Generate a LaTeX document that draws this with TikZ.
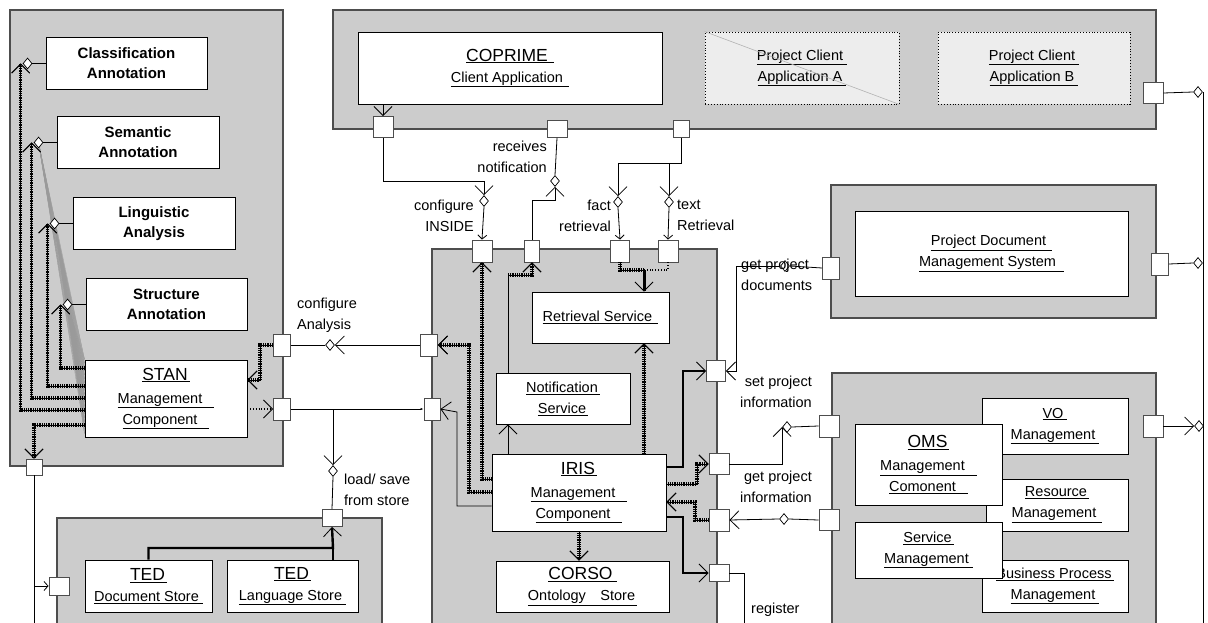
\documentclass[tikz,border=0pt]{standalone}
\usepackage{fontspec}
\setmainfont{Liberation Sans}
\usetikzlibrary{arrows.meta,calc,shapes.geometric}
\definecolor{pkggray}{HTML}{CCCCCC}
\definecolor{pkgline}{HTML}{4D4D4D}
\definecolor{appgray}{HTML}{EDEDED}
\definecolor{fangray}{HTML}{9A9A9A}
\newcommand{\und}[2][0pt]{\underline{#2\hspace{#1}}}
\newcommand{\ttl}{\fontsize{17.5}{24}\selectfont}
\begin{document}
\begin{tikzpicture}[x=1pt,y=-1pt,font=\fontsize{14.5}{21}\selectfont,
  pkg/.style={draw=pkgline,fill=pkggray,line width=1.2pt},
  comp/.style={draw=black,fill=white,line width=0.9pt,align=center,inner sep=0pt},
  port/.style={draw=pkgline,fill=white,line width=0.9pt,inner sep=0pt},
  dia/.style={diamond,draw=black,fill=white,line width=0.7pt,inner sep=0pt,minimum width=9pt,minimum height=11pt},
  wire/.style={draw=black,line width=0.8pt},
  hat/.style={draw=black,line width=3.2pt,dash pattern=on 1pt off 0.8pt,postaction={draw=black,solid,line width=0.9pt}},
  heavy/.style={draw=black,line width=2.4pt},
  lbl/.style={inner sep=0pt},
  crow/.tip={Straight Barb[length=9pt,width=18pt,line width=0.8pt]},
  crs/.tip={Straight Barb[length=4pt,width=9pt,line width=0.8pt]}]
\useasboundingbox (0,0) rectangle (1208,623);
\clip (0,0) rectangle (1208,623);
\node[pkg,minimum width=273pt,minimum height=456pt] (pkStan) at (146.5,238) {};
\node[pkg,minimum width=823pt,minimum height=119pt] (pkCli) at (744.5,69.5) {};
\node[pkg,minimum width=325pt,minimum height=133pt] (pkDoc) at (993.5,251.5) {};
\node[pkg,minimum width=285pt,minimum height=391pt] (pkIris) at (574.5,444.5) {};
\node[pkg,minimum width=324pt,minimum height=267pt] (pkOms) at (994,506.5) {};
\node[pkg,minimum width=325pt,minimum height=122pt] (pkTed) at (219.5,579) {};
\foreach \id/\x/\y/\w/\t in {
cls/126.5/63.5/161/{Classification\\Annotation},
sem/138/142.5/162/{Semantic\\Annotation},
lin/154/223.5/162/{Linguistic\\Analysis},
str/166.5/304.5/161/{Structure\\Annotation}}
{
  \node[comp,minimum width=\w pt,minimum height=52pt,font=\fontsize{15}{20}\selectfont\bfseries] (\id) at (\x,\y) {\t};
}
\node[comp,minimum width=162pt,minimum height=77pt] (stan) at (166,398.5) {{\ttl\und[2pt]{STAN}}\\[2pt]\und[12pt]{Management}\\\und[12pt]{Component}};
\node[comp,minimum width=127pt,minimum height=52pt] (tedDoc) at (148.5,586) {{\ttl\und[2pt]{TED}}\\\und[4pt]{Document Store}};
\node[comp,minimum width=131pt,minimum height=52pt] (tedLang) at (292.5,586) {{\ttl\und[2pt]{TED}}\\\und[4pt]{Language Store}};
\node[comp,minimum width=304pt,minimum height=72pt] (coprime) at (510,68) {{\ttl\und[6pt]{COPRIME}}\\\und[6pt]{Client Application}};
\node[comp,dotted,fill=appgray,minimum width=194pt,minimum height=72pt] (appA) at (802,68) {\und[4pt]{Project Client}\\\und[4pt]{Application A}};
\draw[gray!60,line width=0.6pt] (appA.north west) -- (appA.south east);
\node[comp,dotted,fill=appgray,minimum width=192pt,minimum height=72pt] (appB) at (1034,68) {\und[4pt]{Project Client}\\\und[4pt]{Application B}};
\node[comp,minimum width=273pt,minimum height=85pt] (pdms) at (991.5,253.5) {\und[6pt]{Project Document}\\\und[8pt]{Management System}};
\node[comp,minimum width=137pt,minimum height=51pt] (retr) at (600.5,317.5) {\und[6pt]{Retrieval Service}};
\node[comp,minimum width=134pt,minimum height=51pt] (notif) at (563,398.5) {\und[2pt]{Notification}\\\und[2pt]{Service}};
\node[comp,minimum width=174pt,minimum height=77pt] (iris) at (579,492.5) {{\ttl\und[2pt]{IRIS}}\\[2pt]\und[12pt]{Management}\\\und[12pt]{Component}};
\node[comp,minimum width=173pt,minimum height=51pt] (corso) at (582.5,586.5) {{\ttl\und[4pt]{CORSO}}\\\und[2pt]{Ontology\quad Store}};
\node[comp,minimum width=146pt,minimum height=56pt] (vo) at (1055,426) {\und[4pt]{VO}\\\und[4pt]{Management}};
\node[comp,minimum width=142pt,minimum height=52pt] (res) at (1057,505) {\und[2pt]{Resource}\\\und[6pt]{Management}};
\node[comp,minimum width=146pt,minimum height=52pt] (bpm) at (1055,586) {\und[2pt]{Business Process}\\\und[4pt]{Management}};
\node[comp,minimum width=147pt,minimum height=81pt] (oms) at (928.5,464.5) {{\ttl\und[2pt]{OMS}}\\[2pt]\und[12pt]{Management}\\\und[12pt]{Comonent}};
\node[comp,minimum width=147pt,minimum height=56pt] (svc) at (928.5,550) {\und[2pt]{Service}\\\und[4pt]{Management}};
\foreach \b in {sem,lin,str}{
  \foreach \t in {0,0.05,...,1}{\draw[fangray,line width=0.3pt] ($(\b.west)+(-18,0)$) -- ($(stan.north west)!\t!(stan.south west)$);}
}
\foreach \id/\x/\y/\w/\h in {pL1/34/467/16/16, pL2/282/345/17/22, pL3/282/409/17/22, pT1/59/586/20/18, pT2/332/518/20/17,
  pC1/383/127/20/21, pC2/557/129/20/17, pC3/681/129/16/17, pC4/1153/93/20/21,
  pI1/482/251/20/22, pI2/532/251/15/22, pI3/620/251/19/22, pI4/668/251/20/22, pI5/429/345/17/22, pI6/432/409/16/22,
  pI7/716/371/19/21, pI8/719/464/20/21, pI9/719/520/20/22, pI10/719/573/20/17,
  pD1/831/268/17/22, pD2/1160/264/17/22, pO1/829/426/20/22, pO2/829/520/20/21, pO3/1153/426/20/22}
{
  \node[port,minimum width=\w pt,minimum height=\h pt] (\id) at (\x,\y) {};
}
\foreach \id/\x/\y in {dCfg/330/345, dLoad/333/471, dIns/484/201, dRec/555/181, dFact/618/202, dText/669/202,
  dDoc/785/266, dSet/787/427, dGet/784/519, dR1/1198/92, dR2/1198/263, dR3/1199/426}
{
  \node[dia] (\id) at (\x,\y) {};
}
\foreach \b/\y in {cls/410,sem/398,lin/386,str/368}{
  \node[dia] (d\b) at ($(\b.west)+(-18,0)$) {};
  \draw[wire] (\b.west) -- (d\b.east);
  \draw[hat,-crow] (stan.west |- 0,\y) -| ($(d\b.west)+(-2,0)$);
}
\node[lbl,anchor=north east,align=right] (lInside) at (474,200) {configure\\INSIDE};
\node[lbl,anchor=north east,align=right] (lRec) at (547,141) {receives\\notification};
\node[lbl,anchor=north east,align=right] (lFact) at (611,200) {fact\\retrieval};
\node[lbl,anchor=north west,align=left] (lText) at (677,200) {text\\Retrieval};
\node[lbl,anchor=north west,align=left] (lCfg) at (297,298) {configure\\Analysis};
\node[lbl,anchor=north west,align=left] (lLoad) at (344,474) {load/ save\\from store};
\node[lbl,anchor=north west,align=left] (lDoc) at (741,259) {get project\\documents};
\node[lbl,anchor=north east,align=right] (lSet) at (812,376) {set project\\information};
\node[lbl,anchor=north east,align=right] (lGet) at (812,471) {get project\\information};
\node[lbl,anchor=north west] (lReg) at (751,603) {register};
\coordinate (k1) at (484,181);
\coordinate (k2) at (532,200);
\coordinate (k3) at (681,163);
\coordinate (k4) at (736,266);
\coordinate (k5) at (333,409);
\coordinate (k6) at (333,548);
\coordinate (k7) at (260,380);
\coordinate (k8) at (469,345);
\coordinate (k9) at (457,412);
\coordinate (k10) at (508,275);
\coordinate (k11) at (644,270);
\coordinate (k12) at (683,371);
\coordinate (k13) at (697,464);
\coordinate (k14) at (695,502);
\coordinate (k15) at (683,573);
\coordinate (k16) at (744,623);
\coordinate (lb) at (34,623);
\coordinate (rb) at (1203,623);
\draw[wire,-crow] (coprime.south -| pC1) -- (pC1.north);
\draw[wire,-crow] (pC1.south) |- (k1) -- (dIns.north);
\draw[wire,-crs] (dIns.south) -- (pI1.north);
\draw[wire] (pC2.south) -- (dRec.north);
\draw[wire,-crow] (pI2.north) |- (k2) -| (dRec.south);
\draw[wire] (pC3.south) |- (dFact.north |- k3);
\draw[wire,-crow] (dFact.north |- k3) -- (dFact.north);
\draw[wire,-crow] (dText.north |- k3) -- (dText.north);
\draw[wire,-crs] (dFact.south) -- (pI3.north);
\draw[wire,-crs] (dText.south) -- (pI4.north);
\draw[wire] (pL2.east) -- (dCfg.west);
\draw[wire,-crow] (pI5.west) -- (dCfg.east);
\draw[wire,-{Latex[length=3pt]}] (pL3.east) -- (pI6.west);
\draw[wire,-crow] (k5) -- (dLoad.north);
\draw[wire] (dLoad.south) -- (pT2.north);
\draw[hat,-crow] (pL2.west) -| (k7) -- (stan.east |- k7);
\draw[wire,dotted,line width=1.5pt,-crow] (stan.east |- pL3) -- (pL3.west);
\draw[hat,-crow] (stan.west |- 0,425) -| (pL1.north);
\draw[wire] (pL1.south) -- (lb);
\draw[wire,-crs] (pL1.south |- pT1) -- (pT1.west);
\draw[heavy,-crow] (tedDoc.north) |- (k6) -- (pT2.south);
\draw[wire,line width=1.5pt] (k6 |- tedLang.north) -- (k6);
\draw[hat,-crow] (iris.west |- 0,479) -| (pI1.south);
\draw[hat,-crow] (iris.west |- 0,492) -| (k8) -- (pI5.east);
\draw[wire,-crow] (iris.west |- 0,506) -| (k9) -- (pI6.east);
\draw[wire,-crow] (iris.north -| k10) -- (notif.south -| k10);
\draw[wire] (notif.north -| k10) -- (k10);
\draw[hat,-crow] (k10) -| (pI2.south);
\draw[hat,-crow] (iris.north -| k11) -- (retr.south -| k11);
\draw[hat] (pI3.south) |- (k11);
\draw[wire,dotted,line width=2pt] (pI4.south) |- (k11);
\draw[line width=3pt,-crow] (k11) -- (retr.north -| k11);
\draw[heavy,-crow] (iris.east |- 0,467) -| (k12) -- (pI7.west);
\draw[hat,-crow] (iris.east |- 0,484) -| (k13) -- (pI8.west);
\draw[hat,-crow] (pI9.west) -| (k14) -- (iris.east |- k14);
\draw[heavy,-crow] (iris.east |- 0,517) -| (k15) -- (pI10.west);
\draw[hat,-crow] (iris.south) -- (iris.south |- corso.north);
\draw[wire] (pD1.west) -- (dDoc.east);
\draw[wire,-crow] (dDoc.west) -- (k4) |- (pI7.east);
\draw[wire] (pO1.west) -- (dSet.east);
\draw[wire,-crow] (pI8.east) -| (dSet.west);
\draw[wire] (pO2.west) -- (dGet.east);
\draw[wire,-crow] (dGet.west) -- (pI9.east);
\draw[wire] (pI10.east) -| (k16);
\draw[wire] (pC4.east) -- (dR1.west);
\draw[wire] (dR1.east) -| (rb);
\draw[wire] (pD2.east) -- (dR2.west);
\draw[wire,-crow] (pO3.east) -- (dR3.west);
\end{tikzpicture}
\end{document}
